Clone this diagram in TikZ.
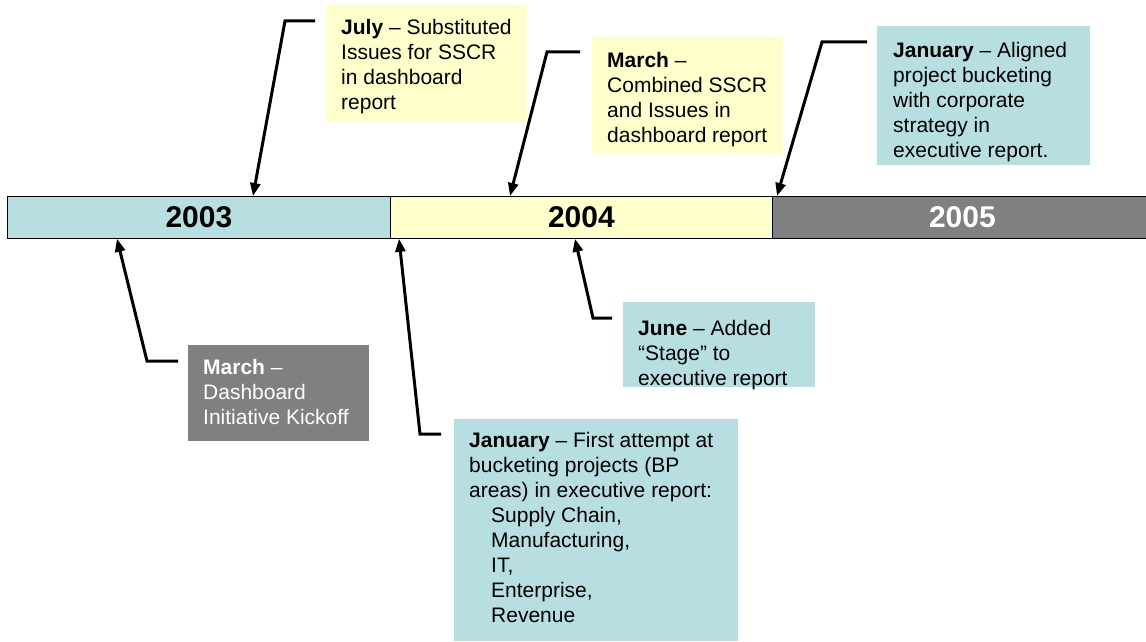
\documentclass[tikz,border=0pt]{standalone}
\usepackage{fontspec}
\setmainfont{Liberation Sans}
\usetikzlibrary{arrows.meta,calc}
\definecolor{tlblue}{HTML}{B7DEE1}
\definecolor{tlyellow}{HTML}{FFFFCC}
\definecolor{tlgray}{HTML}{808080}
\begin{document}
\begin{tikzpicture}[x=1pt,y=-1pt,
  yearseg/.style={draw=black, line width=0.8pt, minimum height=42pt, anchor=north west, inner sep=0pt, font=\bfseries\fontsize{30}{32}\selectfont},
  notebox/.style={anchor=north west, inner sep=0pt, outer sep=0pt},
  note/.style={anchor=north west, inner sep=0pt, align=left, font=\fontsize{21}{25}\selectfont, text=black},
  arr/.style={line width=3pt, line join=miter, -{Triangle[length=13pt,width=10pt]}}]
\clip (0,0) rectangle (1146,642);
% timeline bar
\node[yearseg, fill=tlblue, minimum width=383pt] (y2003) at (7,196) {2003};
\node[yearseg, fill=tlyellow, minimum width=382pt] (y2004) at (390,196) {2004};
\node[yearseg, fill=tlgray, minimum width=380pt, text=white] (y2005) at (772,196) {2005};
% note boxes
\node[notebox, fill=tlyellow, minimum width=201pt, minimum height=117pt] (julybox) at (326,5) {};
\node[notebox, fill=tlyellow, minimum width=191pt, minimum height=116pt] (marchboxb) at (592,37) {};
\node[notebox, fill=tlblue, minimum width=213pt, minimum height=139pt] (janboxc) at (877,26) {};
\node[notebox, fill=tlgray, minimum width=181pt, minimum height=96pt] (marchboxa) at (188,345) {};
\node[notebox, fill=tlblue, minimum width=192pt, minimum height=85pt] (junebox) at (623,302) {};
\node[notebox, fill=tlblue, minimum width=284pt, minimum height=222pt] (janboxb) at (454,419) {};
% note texts
\node[note] (julynote) at ($(julybox.north west)+(15,14)$)
  {\textbf{July} – Substituted\\Issues for SSCR\\in dashboard\\report};
\node[note] (marchnoteb) at ($(marchboxb.north west)+(15,15)$)
  {\textbf{March} –\\Combined SSCR\\and Issues in\\dashboard report};
\node[note] (jannotec) at ($(janboxc.north west)+(16,16)$)
  {\textbf{January} – Aligned\\project bucketing\\with corporate\\strategy in\\executive report.};
\node[note, text=white] (marchnotea) at ($(marchboxa.north west)+(15,14)$)
  {\textbf{March} –\\Dashboard\\Initiative Kickoff};
\node[note] (junenote) at ($(junebox.north west)+(15,18)$)
  {\textbf{June} – Added\\“Stage” to\\executive report};
\node[note] (jannoteb) at ($(janboxb.north west)+(15,13)$)
  {\textbf{January} – First attempt at\\bucketing projects (BP\\areas) in executive report:\\
   \hspace*{22pt}Supply Chain,\\\hspace*{22pt}Manufacturing,\\\hspace*{22pt}IT,\\\hspace*{22pt}Enterprise,\\\hspace*{22pt}Revenue};
% connectors
\draw[arr] ($(julybox.north west)+(-11,16)$) -- ++(-30,0) -- ($(y2003.north west)+(246,0)$);
\draw[arr] ($(marchboxb.north west)+(-12,15)$) -- ++(-33,0) -- ($(y2004.north west)+(120,0)$);
\draw[arr] ($(janboxc.north west)+(-10,16)$) -- ++(-45,0) -- ($(y2005.north west)+(5,0)$);
\draw[arr] ($(marchboxa.north west)+(-10,16)$) -- ++(-31,0) -- ($(y2003.south west)+(110,0)$);
\draw[arr] ($(janboxb.north west)+(-13,15)$) -- ++(-21,0) -- ($(y2004.south west)+(9,0)$);
\draw[arr] ($(junebox.north west)+(-11,16)$) -- ++(-19,0) -- ($(y2004.south west)+(185,0)$);
\end{tikzpicture}
\end{document}
